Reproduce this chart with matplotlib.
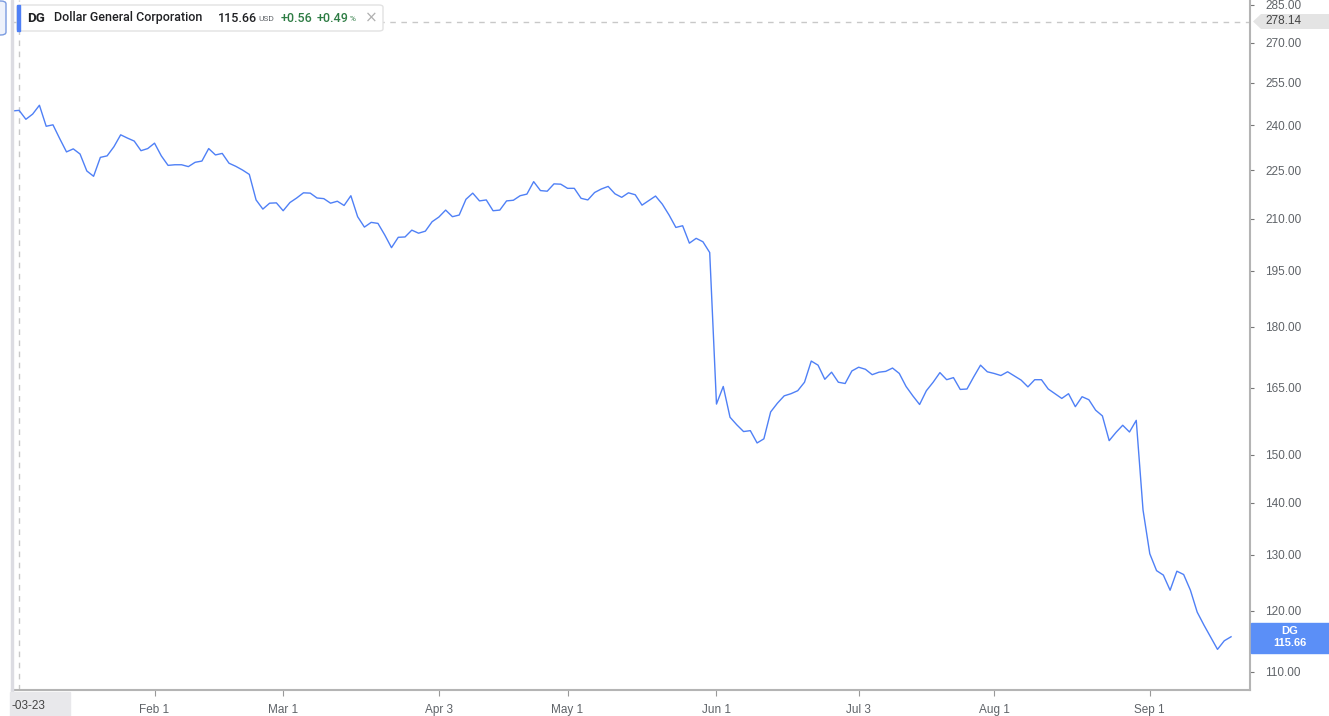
import numpy as np
import pandas as pd
import matplotlib
matplotlib.use("Agg")
import matplotlib.pyplot as plt
from matplotlib.patches import FancyBboxPatch, Polygon, Rectangle
from matplotlib.ticker import FixedLocator, FormatStrFormatter, NullLocator

# DG closing prices, one per trading day from 2022-12-30
prices = [
    244.9, 245.1, 242.0, 243.8, 246.9, 239.6, 240.1, 235.4, 231.0, 232.0,
    230.3, 224.8, 223.1, 229.2, 229.7, 232.7, 236.7, 235.6, 234.6, 231.4,
    232.1, 233.9, 229.7, 226.6, 226.8, 226.8, 226.2, 227.6, 228.0, 232.1,
    230.0, 230.5, 227.3, 226.3, 225.1, 223.7, 215.7, 212.9, 214.7, 214.8,
    212.4, 214.9, 216.3, 217.9, 217.8, 216.3, 216.1, 214.7, 215.3, 214.0,
    217.0, 210.6, 207.5, 208.9, 208.6, 205.2, 201.5, 204.5, 204.6, 206.6,
    205.7, 206.3, 209.1, 210.5, 212.6, 210.6, 211.1, 215.9, 217.8, 215.4,
    215.7, 212.4, 212.6, 215.4, 215.6, 217.0, 217.5, 221.4, 218.6, 218.4,
    220.7, 220.6, 219.3, 219.3, 216.2, 215.7, 218.0, 219.1, 219.9, 217.6,
    216.5, 217.9, 217.3, 214.1, 215.5, 216.9, 214.4, 211.1, 207.4, 207.9,
    202.8, 204.2, 203.2, 200.1, 161.2, 165.3, 158.2, 156.5, 155.0, 155.2,
    152.5, 153.4, 159.4, 161.4, 163.1, 163.6, 164.3, 166.3, 171.4, 170.4,
    167.0, 168.7, 166.3, 166.0, 169.0, 169.9, 169.4, 168.1, 168.7, 168.9,
    169.7, 168.4, 165.3, 163.1, 161.1, 164.3, 166.3, 168.6, 166.9, 167.4,
    164.6, 164.7, 167.6, 170.4, 168.8, 168.4, 167.9, 168.8, 167.8, 166.8,
    165.2, 166.9, 166.9, 164.7, 163.6, 162.5, 163.6, 160.6, 162.9, 162.2,
    159.8, 158.5, 153.0, 154.8, 156.4, 154.9, 157.5, 138.6, 130.2, 127.1,
    126.3, 123.6, 127.0, 126.4, 123.6, 119.8, 117.6, 115.6, 113.6, 115.0,
    115.66,
]
holidays = ["2023-01-02", "2023-01-16", "2023-02-20", "2023-04-07",
            "2023-05-29", "2023-06-19", "2023-07-04", "2023-09-04"]
tick_dates = ["2023-02-01", "2023-03-01", "2023-04-03", "2023-05-01",
              "2023-06-01", "2023-07-03", "2023-08-01", "2023-09-01"]
tick_labels = ["Feb 1", "Mar 1", "Apr 3", "May 1", "Jun 1", "Jul 3", "Aug 1", "Sep 1"]
y_ticks = [110, 120, 130, 140, 150, 165, 180, 195, 210, 225, 240, 255, 270, 285]
prev_high = 278.14
last_price = 115.66
change = 0.56
change_pct = 0.49

dates = pd.bdate_range("2022-12-30", periods=len(prices), freq="C", holidays=holidays)
xs = np.arange(len(prices))
tick_pos = [dates.get_loc(pd.Timestamp(d)) for d in tick_dates]
cross_pos = dates.get_loc(pd.Timestamp("2023-01-03"))

W, H = 1329, 716
LINE = "#4f80f6"
GRAY = "#5f6368"
AXC = "#b4b4b4"

fig = plt.figure(figsize=(W / 100, H / 100), dpi=100)
fig.patch.set_facecolor("white")

def fx(x):
    return x / W

def fy(y):
    return 1 - y / H

ax = fig.add_axes([fx(12), fy(690), fx(1250) - fx(12), fy(0) - fy(690)])
ax.plot(xs, prices, color=LINE, lw=1.0, zorder=3)
ax.set_yscale("log")
ax.set_ylim(107.2, 286.9)
ax.set_xlim(-0.05, 182.8)

ax.yaxis.tick_right()
ax.yaxis.set_major_locator(FixedLocator(y_ticks))
ax.yaxis.set_minor_locator(NullLocator())
ax.yaxis.set_major_formatter(FormatStrFormatter("%.2f"))
ax.tick_params(axis="y", which="major", direction="out", length=3, width=0.8,
               color="#777777", labelsize=8.5, labelcolor=GRAY, pad=8)
for t in ax.get_yticklabels():
    t.set_fontfamily("Liberation Sans")

ax.set_xticks(tick_pos)
ax.set_xticklabels(tick_labels)
ax.tick_params(axis="x", direction="out", length=4, width=0.8, color="#999999",
               labelsize=8.5, labelcolor=GRAY, pad=6)
for t in ax.get_xticklabels():
    t.set_fontfamily(["Liberation Sans Narrow", "Liberation Sans"])

for s in ["top", "left"]:
    ax.spines[s].set_visible(False)
for s in ["right", "bottom"]:
    ax.spines[s].set_color(AXC)
    ax.spines[s].set_linewidth(1.5)

# dashed reference lines
ax.axhline(prev_high, color="#c8c8c8", lw=1, ls=(0, (4, 4)), zorder=1)
ax.axvline(cross_pos, color="#c8c8c8", lw=1, ls=(0, (4, 4)), zorder=1)

# left panel border and button
fig.patches.append(Rectangle((fx(11), fy(716)), fx(2), 1, transform=fig.transFigure,
                             color="#dcdce2", zorder=0))
fig.patches.append(FancyBboxPatch((fx(-6), fy(35)), fx(12), fy(1) - fy(35),
                                  boxstyle="round,pad=0,rounding_size=0.004",
                                  transform=fig.transFigure, fc="#eef2fb",
                                  ec="#7a9be0", lw=1, zorder=5))

# legend box
fig.patches.append(FancyBboxPatch((fx(17), fy(31)), fx(383) - fx(17), fy(5) - fy(31),
                                  boxstyle="round,pad=0,rounding_size=0.003",
                                  transform=fig.transFigure, fc="white",
                                  ec="#e2e2e2", lw=1, zorder=5))
fig.patches.append(Rectangle((fx(17), fy(31)), fx(3), fy(5) - fy(31),
                             transform=fig.transFigure, color=LINE, zorder=6))
ty = fy(18)
lf = dict(fontfamily="Roboto", fontsize=9, va="center", zorder=7)
fig.text(fx(27), ty, "DG", color="#202124", fontweight="bold", fontfamily="Roboto",
         fontsize=9.5, va="center", zorder=7)
fig.text(fx(54), ty, "Dollar General Corporation", color="#202124", fontweight="medium", **lf)
fig.text(fx(218), ty, f"{last_price:.2f}", color="#202124", fontweight="medium", **lf)
fig.text(fx(258), fy(19), "USD", color=GRAY, fontfamily="Roboto", fontsize=6,
         va="center", zorder=7)
fig.text(fx(281), ty, f"+{change:.2f}", color="#2f7d45", fontweight="medium", **lf)
fig.text(fx(317), ty, f"+{change_pct:.2f}", color="#2f7d45", fontweight="medium", **lf)
fig.text(fx(350), fy(19), "%", color="#2f7d45", fontfamily="Roboto", fontsize=6,
         va="center", zorder=7)
fig.text(fx(371), ty, "\u00d7", color="#b0b0b0", fontfamily="DejaVu Sans", fontsize=11,
         ha="center", va="center", zorder=7)

# right side label for the dashed high
yh = 21.5
fig.patches.append(Polygon([(fx(1253), fy(yh)), (fx(1261), fy(14)), (fx(1329), fy(14)),
                            (fx(1329), fy(29)), (fx(1261), fy(29))],
                           closed=True, transform=fig.transFigure,
                           fc="#e4e4e4", ec="none", zorder=5))
fig.text(fx(1265), fy(yh), f"{prev_high:.2f}", color="#444444", fontfamily="Liberation Sans",
         fontsize=8.5, va="center", zorder=6)

# last price tag
fig.patches.append(Rectangle((fx(1251), fy(653)), fx(1329) - fx(1251), fy(623) - fy(653),
                             transform=fig.transFigure, color="#5b8ff7", zorder=5))
fig.text(fx(1290), fy(631.5), "DG", color="white", fontweight="bold",
         fontfamily="Liberation Sans", fontsize=8, ha="center", va="center", zorder=6)
fig.text(fx(1290), fy(643.5), f"{last_price:.2f}", color="white", fontweight="bold",
         fontfamily="Liberation Sans", fontsize=8, ha="center", va="center", zorder=6)

# crosshair date tag at the bottom left
fig.patches.append(Rectangle((fx(10), fy(716)), fx(60), fy(692) - fy(716),
                             transform=fig.transFigure, color="#e8e8eb", zorder=5))
fig.text(fx(12), fy(706), "-03-23", color="#444444",
         fontfamily=["Liberation Sans Narrow", "Liberation Sans"], fontsize=8.5,
         va="center", zorder=6)

fig.savefig("out.png", dpi=100)
